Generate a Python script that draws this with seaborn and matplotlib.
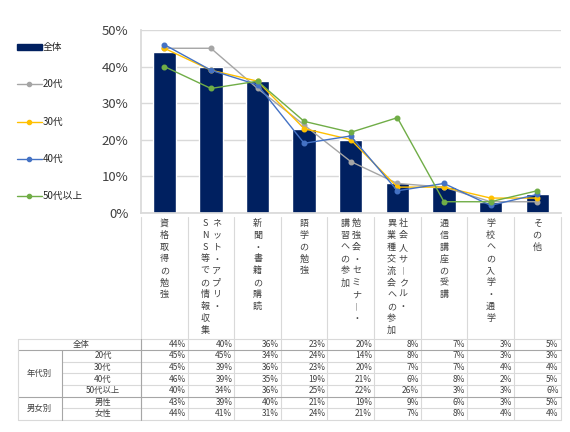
import numpy as np
import pandas as pd
import seaborn as sns
import matplotlib.pyplot as plt
from matplotlib.lines import Line2D
from matplotlib.patches import Patch
from matplotlib.transforms import blended_transform_factory

sns.set_theme(style="white")
plt.rcParams['font.family'] = ['Noto Sans CJK JP', 'DejaVu Sans']

categories = ["資格取得の勉強", "ネット・アプリ・SNS等での情報収集", "新聞・書籍の購読",
              "語学の勉強", "勉強会・セミナー・講習への参加", "社会人サークル・異業種交流会への参加",
              "通信講座の受講", "学校への入学・通学", "その他"]
# vertical label columns, right column first
label_cols = [["資格取得の勉強"],
              ["ネット・アプリ・", "SNS等での情報収集"],
              ["新聞・書籍の購読"],
              ["語学の勉強"],
              ["勉強会・セミナー・", "講習への参加"],
              ["社会人サークル・", "異業種交流会への参加"],
              ["通信講座の受講"],
              ["学校への入学・通学"],
              ["その他"]]

total = [44, 40, 36, 23, 20, 8, 7, 3, 5]
age20 = [45, 45, 34, 24, 14, 8, 7, 3, 3]
age30 = [45, 39, 36, 23, 20, 7, 7, 4, 4]
age40 = [46, 39, 35, 19, 21, 6, 8, 2, 5]
age50 = [40, 34, 36, 25, 22, 26, 3, 3, 6]
male = [43, 39, 40, 21, 19, 9, 6, 3, 5]
female = [44, 41, 31, 24, 21, 7, 8, 4, 4]

age_names = ["20代", "30代", "40代", "50代以上"]
age_colors = ["#A5A5A5", "#FFC000", "#4472C4", "#70AD47"]
bar_color = "#002060"

W, H = 570, 432
fig = plt.figure(figsize=(W / 100, H / 100), dpi=100)

def fy(py):
    return 1 - py / H

ax = fig.add_axes([141 / W, fy(212.7), 419.5 / W, (212.7 - 30) / H])

df = pd.DataFrame({"cat": categories, "val": total})
sns.barplot(data=df, x="cat", y="val", order=categories, color=bar_color,
            width=0.5, saturation=1, ax=ax)

xs = np.arange(len(categories))
for name, vals, col in zip(age_names, [age20, age30, age40, age50], age_colors):
    ax.plot(xs, vals, color=col, lw=1.0, marker="o", ms=3.3, zorder=3)

ax.set_xlim(-0.5, 8.5)
ax.set_ylim(0, 50)
ax.set_yticks(range(0, 51, 10))
ax.set_yticklabels([f"{v}%" for v in range(0, 51, 10)], fontsize=9.5, color="#404040")
ax.tick_params(axis="y", length=0, pad=9)
ax.set_xticks([])
ax.set_xlabel("")
ax.set_ylabel("")
ax.grid(axis="y", color="#D9D9D9", lw=1)
ax.set_axisbelow(True)
for s in ["top", "right"]:
    ax.spines[s].set_visible(False)
ax.spines["left"].set_color("#D9D9D9")
ax.spines["bottom"].set_color("#D9D9D9")

handles = [Patch(color=bar_color)] + [
    Line2D([], [], color=c, lw=1.0, marker="o", ms=3) for c in age_colors]
leg = fig.legend(handles, ["全体"] + age_names, loc="upper left",
                 bbox_to_anchor=(8 / W, fy(33.5)), frameon=False, fontsize=7,
                 handlelength=2.6, handleheight=0.5, handletextpad=0.1,
                 labelspacing=2.8)

# category labels below the plot
tr = blended_transform_factory(ax.transData, fig.transFigure)
line_kw = dict(color="#D9D9D9", lw=0.8, transform=tr, clip_on=False)
col_gap = 0.25
char_step = 11.9
for i, cols in enumerate(label_cols):
    n = len(cols)
    for j, text in enumerate(cols):
        x = i + (n - 1) / 2 * col_gap - j * col_gap
        for k, ch in enumerate(text):
            if ch == "ー":
                ch = "︱"
            fig.text(x, fy(223.3 + k * char_step), ch, transform=tr,
                     ha="center", va="center", fontsize=6.5, color="#404040")
for b in np.arange(-0.5, 9.0, 1.0):
    fig.add_artist(Line2D([b, b], [fy(217), fy(419.7)], **line_kw))

# table below
row_top = 338.5
row_h = 11.6
rows = [total, age20, age30, age40, age50, male, female]
sub_labels = ["", "20代", "30代", "40代", "50代以上", "男性", "女性"]
def hline(x0, x1, py, color="#D9D9D9", lw=0.8):
    fig.add_artist(Line2D([x0 / W, x1 / W], [fy(py), fy(py)], color=color, lw=lw))
def vline(px, y0, y1, color="#D9D9D9", lw=0.8):
    fig.add_artist(Line2D([px / W, px / W], [fy(y0), fy(y1)], color=color, lw=lw))

right_px = 560.5
for r in range(8):
    py = row_top + r * row_h
    if r in (0, 1, 5, 7):
        hline(18, right_px, py, color="#A6A6A6" if r in (1, 5) else "#D9D9D9")
    else:
        hline(62, right_px, py)
vline(18, row_top, row_top + 7 * row_h)
vline(62, row_top + row_h, row_top + 7 * row_h, color="#A6A6A6")
vline(141, row_top, row_top + 7 * row_h, color="#A6A6A6")

for r, vals in enumerate(rows):
    cy = fy(row_top + (r + 0.5) * row_h)
    for i, v in enumerate(vals):
        fig.text(i + 0.46, cy, f"{v}%", transform=tr, ha="right", va="center",
                 fontsize=6, color="#404040")
    if r == 0:
        fig.text(81 / W, cy, "全体", ha="center", va="center", fontsize=6, color="#404040")
    else:
        fig.text(103 / W, cy, sub_labels[r], ha="center", va="center", fontsize=6, color="#404040")
fig.text(39 / W, fy(row_top + 3 * row_h), "年代別", ha="center", va="center", fontsize=6, color="#404040")
fig.text(39 / W, fy(row_top + 6 * row_h), "男女別", ha="center", va="center", fontsize=6, color="#404040")

fig.savefig("out.png", dpi=100)
